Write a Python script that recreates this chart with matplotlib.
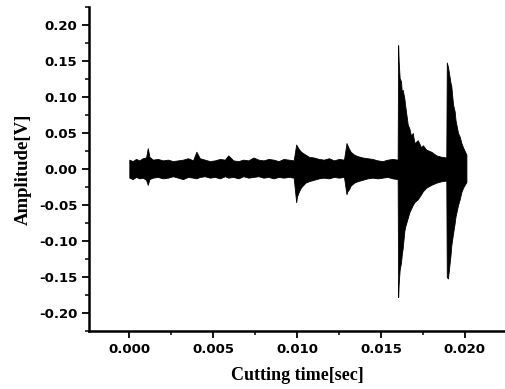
import matplotlib
matplotlib.use("Agg")
import matplotlib.pyplot as plt
from matplotlib.ticker import MultipleLocator

# signal envelope (time in sec, upper / lower amplitude in V)
# quiet part before the first burst
t_quiet = [0.0000, 0.0002, 0.0004, 0.0006, 0.0008, 0.0010, 0.0011, 0.0012, 0.0014, 0.0017,
           0.0020, 0.0023, 0.0026, 0.0029, 0.0032, 0.0035, 0.0038, 0.0040, 0.0042, 0.0045,
           0.0048, 0.0051, 0.0054, 0.0057, 0.0059, 0.0062, 0.0065, 0.0068, 0.0071, 0.0074,
           0.0077, 0.0080, 0.0083, 0.0086, 0.0089, 0.0092, 0.0095, 0.0098]
up_quiet = [0.013, 0.011, 0.014, 0.012, 0.015, 0.016, 0.029, 0.017, 0.013, 0.014,
            0.012, 0.013, 0.011, 0.012, 0.013, 0.015, 0.012, 0.024, 0.015, 0.013,
            0.011, 0.012, 0.014, 0.013, 0.019, 0.012, 0.011, 0.013, 0.012, 0.016,
            0.013, 0.012, 0.014, 0.013, 0.011, 0.014, 0.013, 0.012]
lo_quiet = [-0.012, -0.014, -0.011, -0.013, -0.012, -0.015, -0.022, -0.014, -0.012, -0.011,
            -0.013, -0.012, -0.010, -0.012, -0.014, -0.011, -0.012, -0.013, -0.011, -0.010,
            -0.012, -0.011, -0.013, -0.010, -0.012, -0.011, -0.013, -0.010, -0.012, -0.011,
            -0.010, -0.012, -0.011, -0.013, -0.011, -0.012, -0.011, -0.012]

# small bursts near 0.010 and 0.013 s
t_small = [0.00995, 0.0100, 0.0101, 0.0102, 0.0103, 0.0105, 0.0107, 0.0110, 0.0113, 0.0116,
           0.0119, 0.0122, 0.0125, 0.0128,
           0.01295, 0.0130, 0.0131, 0.0132, 0.0134, 0.0136, 0.0139, 0.0142, 0.0145, 0.0148,
           0.0151, 0.0154, 0.0157, 0.0160]
up_small = [0.034, 0.032, 0.028, 0.025, 0.023, 0.020, 0.017, 0.016, 0.014, 0.013,
            0.015, 0.012, 0.014, 0.013,
            0.036, 0.033, 0.028, 0.024, 0.020, 0.018, 0.016, 0.015, 0.014, 0.012,
            0.011, 0.013, 0.014, 0.013]
lo_small = [-0.046, -0.038, -0.032, -0.027, -0.024, -0.019, -0.017, -0.015, -0.013, -0.012,
            -0.013, -0.011, -0.012, -0.011,
            -0.035, -0.031, -0.028, -0.023, -0.019, -0.017, -0.015, -0.013, -0.012, -0.013,
            -0.012, -0.011, -0.013, -0.014]

# large bursts near 0.016 and 0.019 s
t_big = [0.01603, 0.01606, 0.01612, 0.0162, 0.01625, 0.0163, 0.0164, 0.01645, 0.0166, 0.0167,
         0.0168, 0.0169, 0.0170, 0.0172, 0.0174, 0.0175, 0.0177, 0.0180, 0.0183, 0.0186, 0.0189,
         0.01893, 0.0190, 0.01915, 0.0192, 0.0193, 0.0194, 0.01945, 0.0196, 0.0197, 0.0198,
         0.0199, 0.0200, 0.0201]
up_big = [0.172, 0.150, 0.126, 0.122, 0.105, 0.110, 0.098, 0.088, 0.062, 0.056,
          0.046, 0.050, 0.036, 0.040, 0.030, 0.033, 0.027, 0.024, 0.019, 0.017, 0.016,
          0.148, 0.142, 0.120, 0.115, 0.090, 0.080, 0.068, 0.050, 0.045, 0.036,
          0.030, 0.025, 0.020]
lo_big = [-0.178, -0.160, -0.140, -0.130, -0.118, -0.110, -0.086, -0.080, -0.068, -0.060,
          -0.055, -0.050, -0.046, -0.042, -0.035, -0.031, -0.026, -0.022, -0.019, -0.017, -0.016,
          -0.150, -0.152, -0.120, -0.106, -0.090, -0.075, -0.066, -0.050, -0.042, -0.032,
          -0.026, -0.022, -0.018]

time = t_quiet + t_small + t_big
upper = up_quiet + up_small + up_big
lower = lo_quiet + lo_small + lo_big

fig = plt.figure(figsize=(5.06, 3.89), dpi=100)
ax = fig.add_axes([0.176, 0.149, 0.822, 0.833])

ax.fill_between(time, lower, upper, color="black", linewidth=0.6, edgecolor="black")

ax.set_xlim(-0.0024, 0.0224)
ax.set_ylim(-0.225, 0.225)
ax.xaxis.set_major_locator(MultipleLocator(0.005))
ax.xaxis.set_minor_locator(MultipleLocator(0.0025))
ax.yaxis.set_major_locator(MultipleLocator(0.05))
ax.yaxis.set_minor_locator(MultipleLocator(0.025))
ax.xaxis.set_major_formatter(plt.FuncFormatter(lambda v, p: "%.3f" % v))
ax.yaxis.set_major_formatter(plt.FuncFormatter(lambda v, p: "%.2f" % v))

ax.spines["top"].set_visible(False)
ax.spines["right"].set_visible(False)
ax.spines["left"].set_linewidth(1.8)
ax.spines["bottom"].set_linewidth(1.8)
ax.tick_params(which="major", direction="out", length=5, width=1.3)
ax.tick_params(which="minor", direction="out", length=3, width=1.1)

for lab in ax.get_xticklabels() + ax.get_yticklabels():
    lab.set_fontfamily("DejaVu Sans")
    lab.set_fontweight("bold")
    lab.set_fontsize(9.5)

ax.set_xlabel("Cutting time[sec]", fontfamily="Liberation Serif", fontweight="bold",
              fontsize=13, labelpad=8)
ax.set_ylabel("Amplitude[V]", fontfamily="Liberation Serif", fontweight="bold",
              fontsize=13.5, labelpad=5)

fig.savefig("out.png", dpi=100)
